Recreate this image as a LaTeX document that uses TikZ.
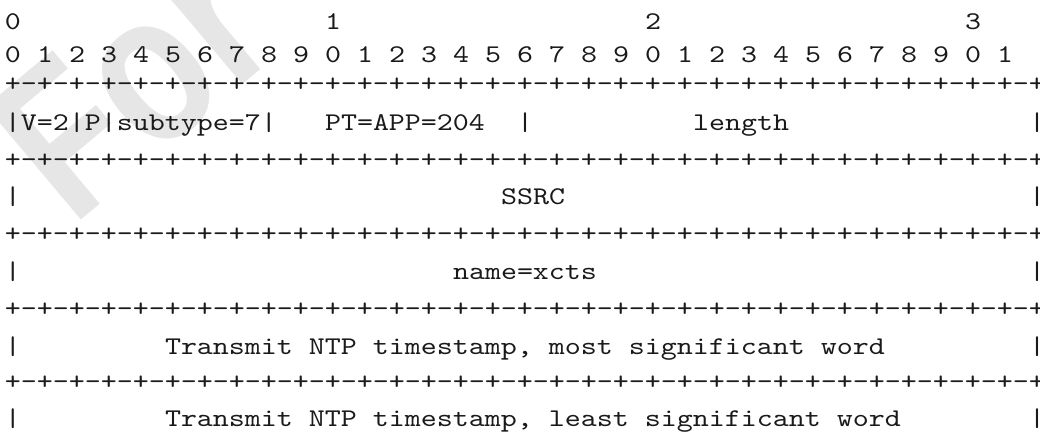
\documentclass[tikz,border=0pt]{standalone}
\usepackage{fontspec}
\usepackage{xcolor}
\usepackage{tikz}
\newfontfamily\pktfont[FakeStretch=1.195]{lmmono10-regular.otf}
\newfontfamily\wmfont[FakeStretch=0.8]{Liberation Sans}
\definecolor{ink}{HTML}{1A1A1A}
\definecolor{wmark}{HTML}{E6E6E6}
\tikzset{
  cell/.style={anchor=base west, inner sep=0pt, outer sep=0pt, text=ink, font=\fontsize{25.5}{30}\selectfont\pktfont},
  wm/.style={anchor=base west, inner sep=0pt, text=wmark, font=\fontsize{215}{215}\selectfont\wmfont\bfseries, rotate=40}
}

\begin{document}
\begin{tikzpicture}[x=1pt,y=-1pt]
  \def\cw{16}
  \useasboundingbox (0,0) rectangle (1040,432);
  \begin{scope}
    \clip (0,0) rectangle (1040,432);
    \node[wm] (wmk) at (72,228) {For};
  \end{scope}

  \node[cell] (n0) at ({5+\cw*0},29) {0};
  \node[cell] (n1) at ({5+\cw*20},29) {1};
  \node[cell] (n2) at ({5+\cw*40},29) {2};
  \node[cell] (n3) at ({5+\cw*60},29) {3};
  \foreach \i in {0,...,31}{
    \pgfmathtruncatemacro\d{mod(\i,10)}
    \node[cell] (b\i) at ({5+\cw*2*\i},62) {\d};
  }
  \foreach \r/\y in {2/91,4/167,6/241,8/316,10/389}
    \node[cell] (sep\r) at (5,\y) {+-+-+-+-+-+-+-+-+-+-+-+-+-+-+-+-+-+-+-+-+-+-+-+-+-+-+-+-+-+-+-+-+};

  \node[cell] (hdr) at ({5+\cw*0},130) {|V=2|P|subtype=7|};
  \node[cell] (pt) at ({5+\cw*20},130) {PT=APP=204};
  \node[cell] (bar3) at ({5+\cw*32},130) {|};
  \node[cell] (len) at ({5+\cw*43},130) {length};
  \node[cell] (br3) at ({5+\cw*64},130) {|};

  \node[cell] (bl5) at (5,204) {|};
  \node[cell] (ssrc) at ({5+\cw*31},204) {SSRC};
  \node[cell] (br5) at ({5+\cw*64},204) {|};

  \node[cell] (bl7) at (5,279) {|};
  \node[cell] (name) at ({5+\cw*28},279) {name=xcts};
  \node[cell] (br7) at ({5+\cw*64},279) {|};

  \node[cell] (bl9) at (5,354) {|};
  \node[cell] (ntpmsw) at ({5+\cw*10},354) {Transmit NTP timestamp, most significant word};
  \node[cell] (br9) at ({5+\cw*64},354) {|};

  \node[cell] (bl11) at (5,426) {|};
  \node[cell] (ntplsw) at ({5+\cw*10},426) {Transmit NTP timestamp, least significant word};
  \node[cell] (br11) at ({5+\cw*64},426) {|};
\end{tikzpicture}
\end{document}
